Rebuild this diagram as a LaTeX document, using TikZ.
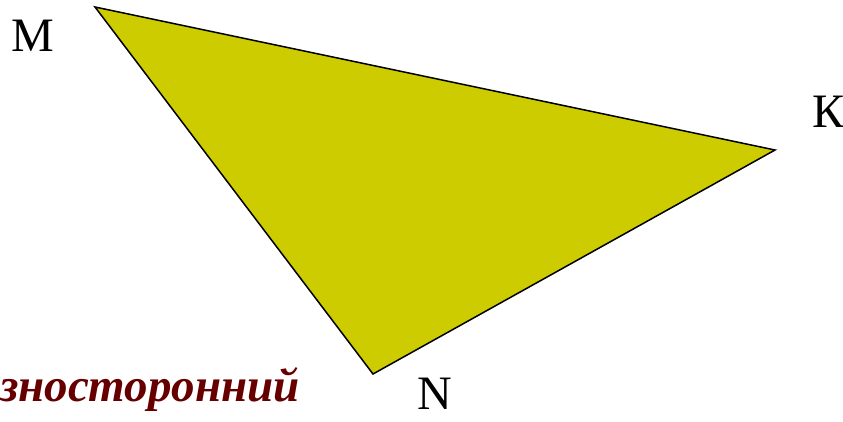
\documentclass[tikz,border=0pt]{standalone}
\usepackage{fontspec}
\setmainfont{Liberation Serif}
\definecolor{triyellow}{RGB}{204,204,0}
\definecolor{darkmaroon}{RGB}{102,0,0}
\begin{document}
\begin{tikzpicture}[x=1pt,y=-1pt,
  vlabel/.style={font=\fontsize{48}{48}\selectfont, inner sep=0pt},
  kindlabel/.style={font=\fontsize{47}{47}\selectfont\bfseries\itshape, text=darkmaroon, inner sep=0pt}]
\useasboundingbox (0,0) rectangle (843,421);
\coordinate (M) at (95,7);
\coordinate (K) at (775,150);
\coordinate (N) at (373,374);
\draw[fill=triyellow, line width=1.5pt, line join=miter] (M) -- (K) -- (N) -- cycle;
\node[vlabel] (lM) at (33,36) {M};
\node[vlabel] (lK) at (828,112) {К};
\node[vlabel] (lN) at (435,394) {N};
\node[kindlabel, anchor=base west] (kind) at (0,401) {зносторонний};
\end{tikzpicture}
\end{document}
